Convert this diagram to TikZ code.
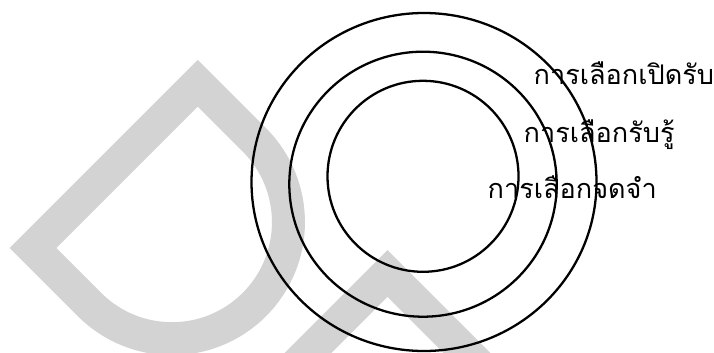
\documentclass[tikz,border=0pt]{standalone}
\usepackage{fontspec}
\newfontfamily\thaifont[Script=Thai]{Loma}
\usetikzlibrary{positioning}
\definecolor{wmark}{RGB}{211,211,211}
\tikzset{
  ring/.style={draw=black,line width=0.65pt},
  wstroke/.style={draw=wmark,line width=0.33cm,line join=miter},
  lab/.style={font=\thaifont\fontsize{7.7}{9}\selectfont,inner sep=0pt,anchor=base west},
}
\begin{document}
\begin{tikzpicture}
\useasboundingbox (0,0) rectangle (7.14,3.52);
% watermark
\begin{scope}[shift={(0.33,1.04)},rotate=-45]
  \draw[wstroke] (0,0) -- (0,2.33) -- (0.80,2.33) arc[start angle=90,end angle=-90,radius=1.165] -- cycle;
  \draw[wstroke] (2.687,0.2) -- (2.687,2.326) -- (4.6,2.326);
\end{scope}
% rings
\draw[ring] (4.24,1.70) ellipse[x radius=1.725,y radius=1.69];
\draw[ring] (4.23,1.678) ellipse[x radius=1.337,y radius=1.325];
\draw[ring] (4.23,1.757) circle[radius=0.955];
\node[lab] (open) at (5.33,2.68) {การเลือกเปิดรับ};
\node[lab] (perc) at (5.23,2.10) {การเลือกรับรู้};
\node[lab] (keep) at (4.87,1.54) {การเลือกจดจำ};
\end{tikzpicture}
\end{document}
